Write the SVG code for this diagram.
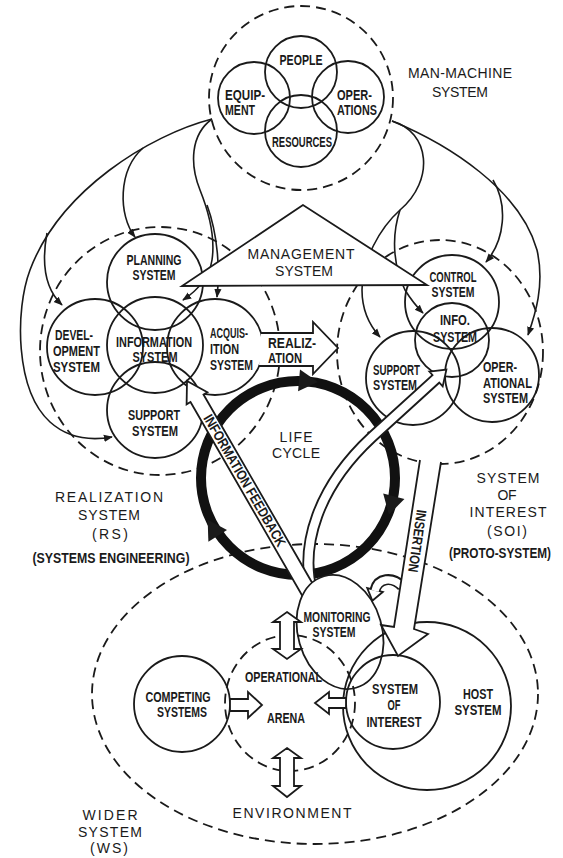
<svg xmlns="http://www.w3.org/2000/svg" xmlns:xlink="http://www.w3.org/1999/xlink" width="563" height="858" viewBox="0 0 563 858">
<style>
.d{fill:none;stroke:#1a1a1a;stroke-width:1.8;stroke-dasharray:10 6}
.c{fill:none;stroke:#1a1a1a;stroke-width:1.8}
.k{fill:none;stroke:#1a1a1a;stroke-width:1.6;marker-end:url(#ah)}
.w{fill:#fff;stroke:#1a1a1a;stroke-width:1.8;stroke-linejoin:miter}
.n{font-family:"Liberation Sans",Arial,sans-serif;font-weight:bold;font-size:14px;fill:#1a1a1a}
.b{font-family:"Liberation Sans",Arial,sans-serif;font-size:14px;fill:#1a1a1a}
.m{text-anchor:middle}
</style>
<defs>
<marker id="ah" viewBox="0 0 10 10" refX="9" refY="5" markerWidth="9" markerHeight="9" markerUnits="userSpaceOnUse" orient="auto"><path d="M0,1 L10,5 L0,9 Z" fill="#1a1a1a"/></marker>
<path id="rh" d="M-7,-11 L12,0 L-7,11 Z" fill="#1a1a1a"/>
</defs>
<rect width="563" height="858" fill="#fff"/>

<!-- system boundaries -->
<g id="boundaries">
<circle class="d" cx="301" cy="98" r="92"/>
<ellipse class="d" cx="160" cy="351" rx="120" ry="124"/>
<ellipse class="d" cx="440" cy="352" rx="103" ry="112"/>
<ellipse class="d" cx="315" cy="694" rx="223" ry="150"/>
</g>

<!-- connectors -->
<g id="connectors">
<path class="k" d="M212,119 C150,135 60,190 30,270 C15,310 15,390 50,422 C70,440 95,440 112,437"/>
<path class="k" d="M143,148 C118,170 118,215 135,237"/>
<path class="k" d="M47,233 C42,260 44,288 62,305"/>
<path class="k" d="M212,119 C190,135 190,165 200,190 C210,215 215,240 212,260 C209,280 195,292 183,300"/>
<path class="k" d="M207,205 C218,235 220,270 217,297"/>
<path class="k" d="M392,121 C450,145 520,190 537,250 C545,285 535,315 528,335"/>
<path class="k" d="M493,180 C508,205 505,240 486,262"/>
<path class="k" d="M392,121 C430,132 435,180 400,210 C380,228 362,260 362,290 C362,310 370,326 380,337"/>
<path class="k" d="M400,210 C390,240 395,270 405,290 C410,298 416,306 423,313"/>
</g>

<!-- man-machine system -->
<g id="man-machine">
<circle class="c" cx="301" cy="72" r="36"/>
<circle class="c" cx="254" cy="98" r="36"/>
<circle class="c" cx="348" cy="97" r="36"/>
<circle class="c" cx="301" cy="131" r="36"/>
<text class="n m" x="301" y="65" textLength="43" lengthAdjust="spacingAndGlyphs">PEOPLE</text>
<text class="n" x="225" y="100" textLength="40" lengthAdjust="spacingAndGlyphs">EQUIP-</text>
<text class="n" x="225" y="115" textLength="30" lengthAdjust="spacingAndGlyphs">MENT</text>
<text class="n" x="337" y="100" textLength="35" lengthAdjust="spacingAndGlyphs">OPER-</text>
<text class="n" x="337" y="115" textLength="40" lengthAdjust="spacingAndGlyphs">ATIONS</text>
<text class="n m" x="302" y="147" textLength="60" lengthAdjust="spacingAndGlyphs">RESOURCES</text>
<text class="b m" x="460" y="78" font-size="13" textLength="104" lengthAdjust="spacing">MAN-MACHINE</text>
<text class="b m" x="460" y="97" font-size="13" textLength="56" lengthAdjust="spacing">SYSTEM</text>
</g>

<!-- realization system -->
<g id="realization-system">
<circle class="c" cx="155" cy="282" r="48"/>
<circle class="c" cx="95" cy="347" r="48"/>
<circle class="c" cx="155" cy="345" r="48"/>
<circle class="c" cx="215" cy="347" r="48"/>
<circle class="c" cx="155" cy="410" r="48"/>
<text class="n m" x="154" y="265" textLength="55" lengthAdjust="spacingAndGlyphs">PLANNING</text>
<text class="n m" x="154" y="280" textLength="43" lengthAdjust="spacingAndGlyphs">SYSTEM</text>
<text class="n" x="55" y="340" textLength="38" lengthAdjust="spacingAndGlyphs">DEVEL-</text>
<text class="n" x="53" y="356" textLength="47" lengthAdjust="spacingAndGlyphs">OPMENT</text>
<text class="n" x="53" y="372" textLength="47" lengthAdjust="spacingAndGlyphs">SYSTEM</text>
<text class="n m" x="154" y="347" font-size="13" textLength="76" lengthAdjust="spacingAndGlyphs">INFORMATION</text>
<text class="n m" x="155" y="362" textLength="45" lengthAdjust="spacingAndGlyphs">SYSTEM</text>
<text class="n" x="210" y="338" font-size="13" textLength="38" lengthAdjust="spacingAndGlyphs">ACQUIS-</text>
<text class="n" x="210" y="354" font-size="13" textLength="29" lengthAdjust="spacingAndGlyphs">ITION</text>
<text class="n" x="210" y="370" font-size="13" textLength="43" lengthAdjust="spacingAndGlyphs">SYSTEM</text>
<text class="n m" x="154" y="420" textLength="52" lengthAdjust="spacingAndGlyphs">SUPPORT</text>
<text class="n m" x="155" y="436" textLength="46" lengthAdjust="spacingAndGlyphs">SYSTEM</text>
<text class="b m" x="109" y="502" textLength="108" lengthAdjust="spacing">REALIZATION</text>
<text class="b m" x="109" y="520" textLength="62" lengthAdjust="spacing">SYSTEM</text>
<text class="b m" x="110" y="539" textLength="36" lengthAdjust="spacing">(RS)</text>
<text class="n m" x="111" y="563" textLength="157" lengthAdjust="spacingAndGlyphs">(SYSTEMS ENGINEERING)</text>
</g>

<!-- system of interest cluster -->
<g id="system-of-interest">
<circle class="c" cx="452" cy="302" r="47"/>
<circle class="c" cx="452" cy="340" r="37"/>
<circle class="c" cx="413" cy="378" r="47"/>
<circle class="c" cx="492" cy="375" r="47"/>
<text class="n m" x="453" y="282" textLength="47" lengthAdjust="spacingAndGlyphs">CONTROL</text>
<text class="n m" x="453" y="297" textLength="43" lengthAdjust="spacingAndGlyphs">SYSTEM</text>
<text class="n m" x="455" y="325" textLength="30" lengthAdjust="spacingAndGlyphs">INFO.</text>
<text class="n m" x="455" y="342" textLength="44" lengthAdjust="spacingAndGlyphs">SYSTEM</text>
<text class="n" x="373" y="375" textLength="47" lengthAdjust="spacingAndGlyphs">SUPPORT</text>
<text class="n" x="373" y="390" textLength="44" lengthAdjust="spacingAndGlyphs">SYSTEM</text>
<text class="n" x="483" y="372" textLength="34" lengthAdjust="spacingAndGlyphs">OPER-</text>
<text class="n" x="483" y="388" textLength="49" lengthAdjust="spacingAndGlyphs">ATIONAL</text>
<text class="n" x="483" y="403" textLength="45" lengthAdjust="spacingAndGlyphs">SYSTEM</text>
<text class="b m" x="508" y="483" textLength="63" lengthAdjust="spacing">SYSTEM</text>
<text class="b m" x="507" y="500" textLength="19" lengthAdjust="spacing">OF</text>
<text class="b m" x="508" y="517" textLength="77" lengthAdjust="spacing">INTEREST</text>
<text class="b m" x="507" y="536" textLength="40" lengthAdjust="spacing">(SOI)</text>
<text class="n m" x="500" y="558" font-size="12" textLength="102" lengthAdjust="spacingAndGlyphs">(PROTO-SYSTEM)</text>
</g>

<!-- management system -->
<g id="management-system">
<polygon class="w" points="303,205 182,286 427,285"/>
<text class="b m" x="301" y="259" font-size="15" textLength="107" lengthAdjust="spacing">MANAGEMENT</text>
<text class="b m" x="304" y="276" font-size="15" textLength="58" lengthAdjust="spacing">SYSTEM</text>
</g>

<!-- realization arrow -->
<g id="realization-arrow">
<path class="w" d="M261,333 L313,333 L313,322 L338,348 L313,374 L313,366 L259,366"/>
<text class="n" x="268" y="348" textLength="48" lengthAdjust="spacingAndGlyphs">REALIZ-</text>
<text class="n" x="268" y="363" textLength="34" lengthAdjust="spacingAndGlyphs">ATION</text>
</g>

<!-- life cycle -->
<g id="life-cycle">
<circle cx="298" cy="478" r="97" fill="none" stroke="#111" stroke-width="10"/>
<use xlink:href="#rh" transform="translate(306,381) rotate(5)"/>
<use xlink:href="#rh" transform="translate(392,503) rotate(105)"/>
<use xlink:href="#rh" transform="translate(214,530) rotate(238)"/>
<text class="b m" x="296" y="442" textLength="33" lengthAdjust="spacing">LIFE</text>
<text class="b m" x="296" y="458" textLength="48" lengthAdjust="spacing">CYCLE</text>
</g>

<!-- arrows from monitoring -->
<g id="monitor-arrows">
<path d="M312,592 C300,545 318,487 372,437 L438,377" fill="none" stroke="#1a1a1a" stroke-width="12"/>
<polygon class="w" points="0,-10 14,0 0,10" transform="translate(436,379) rotate(-42)"/>
<path d="M312,592 C300,545 318,487 372,437 L439,376" fill="none" stroke="#fff" stroke-width="8.4"/>
<g transform="translate(187,381) rotate(60)">
<path class="w" d="M0,0 L20,-12 L20,-7.5 L245,-7.5 L245,7.5 L20,7.5 L20,12 Z"/>
<text class="n m" x="115" y="4.5" font-size="12" textLength="150" lengthAdjust="spacingAndGlyphs">INFORMATION FEEDBACK</text>
</g>
</g>

<!-- wider system contents -->
<g id="monitoring-system">
<ellipse cx="340" cy="632" rx="42" ry="58" transform="rotate(-16 340 632)" fill="#fff" stroke="#1a1a1a" stroke-width="1.8"/>
<text class="n m" x="337" y="622" textLength="67" lengthAdjust="spacingAndGlyphs">MONITORING</text>
<text class="n m" x="334" y="637" textLength="43" lengthAdjust="spacingAndGlyphs">SYSTEM</text>
</g>

<g id="operational-arena">
<ellipse class="d" cx="290" cy="703" rx="65" ry="68" stroke-width="1.6"/>
<text class="n" x="245" y="682" textLength="77" lengthAdjust="spacingAndGlyphs">OPERATIONAL</text>
<text class="n" x="267" y="723" textLength="38" lengthAdjust="spacingAndGlyphs">ARENA</text>
</g>

<g id="host-system">
<circle class="c" cx="427" cy="706" r="84"/>
<text class="n m" x="478" y="699" textLength="30" lengthAdjust="spacingAndGlyphs">HOST</text>
<text class="n m" x="478" y="715" textLength="47" lengthAdjust="spacingAndGlyphs">SYSTEM</text>
</g>

<g id="soi-node">
<circle class="c" cx="393" cy="702" r="47"/>
<text class="n m" x="395" y="694" textLength="46" lengthAdjust="spacingAndGlyphs">SYSTEM</text>
<text class="n m" x="394" y="710" textLength="13" lengthAdjust="spacingAndGlyphs">OF</text>
<text class="n m" x="394" y="727" textLength="55" lengthAdjust="spacingAndGlyphs">INTEREST</text>
</g>

<g id="competing-systems">
<circle class="c" cx="182" cy="704" r="48"/>
<text class="n m" x="178" y="702" textLength="65" lengthAdjust="spacingAndGlyphs">COMPETING</text>
<text class="n m" x="182" y="717" textLength="50" lengthAdjust="spacingAndGlyphs">SYSTEMS</text>
</g>

<g id="block-arrows">
<path class="w" d="M230,699 L248,699 L248,692 L262,705 L248,718 L248,711 L230,711 Z"/>
<path class="w" d="M346,698 L329,698 L329,692 L315,703 L329,714 L329,708 L346,708 Z"/>
<path class="w" d="M287,612 L301,622 L294,622 L294,649 L301,649 L287,659 L273,649 L280,649 L280,622 L273,622 Z"/>
<path class="w" d="M287,748 L301,758 L294,758 L294,786 L301,786 L287,797 L273,786 L280,786 L280,758 L273,758 Z"/>
</g>

<!-- insertion -->
<g id="insertion-arrow">
<path d="M402,586 C392,576 378,578 375,590" fill="none" stroke="#1a1a1a" stroke-width="11"/>
<polygon class="w" points="0,-8 11,0 0,8" transform="translate(375,590) rotate(104)"/>
<path d="M403,587 C392,576 378,578 375,591" fill="none" stroke="#fff" stroke-width="7.4"/>
<path class="w" d="M420,460 L394,627 L381,625 L398,656 L428,634 L414,629 L441,462"/>
<text class="n m" transform="translate(417,541) rotate(98)" x="0" y="4.5" font-size="12" textLength="63" lengthAdjust="spacingAndGlyphs">INSERTION</text>
</g>

<g id="labels-wider">
<text class="b m" x="292" y="818" textLength="119" lengthAdjust="spacing">ENVIRONMENT</text>
<text class="b m" x="110" y="820" textLength="55" lengthAdjust="spacing">WIDER</text>
<text class="b m" x="110" y="837" textLength="64" lengthAdjust="spacing">SYSTEM</text>
<text class="b m" x="109" y="853" textLength="38" lengthAdjust="spacing">(WS)</text>
</g>
</svg>
